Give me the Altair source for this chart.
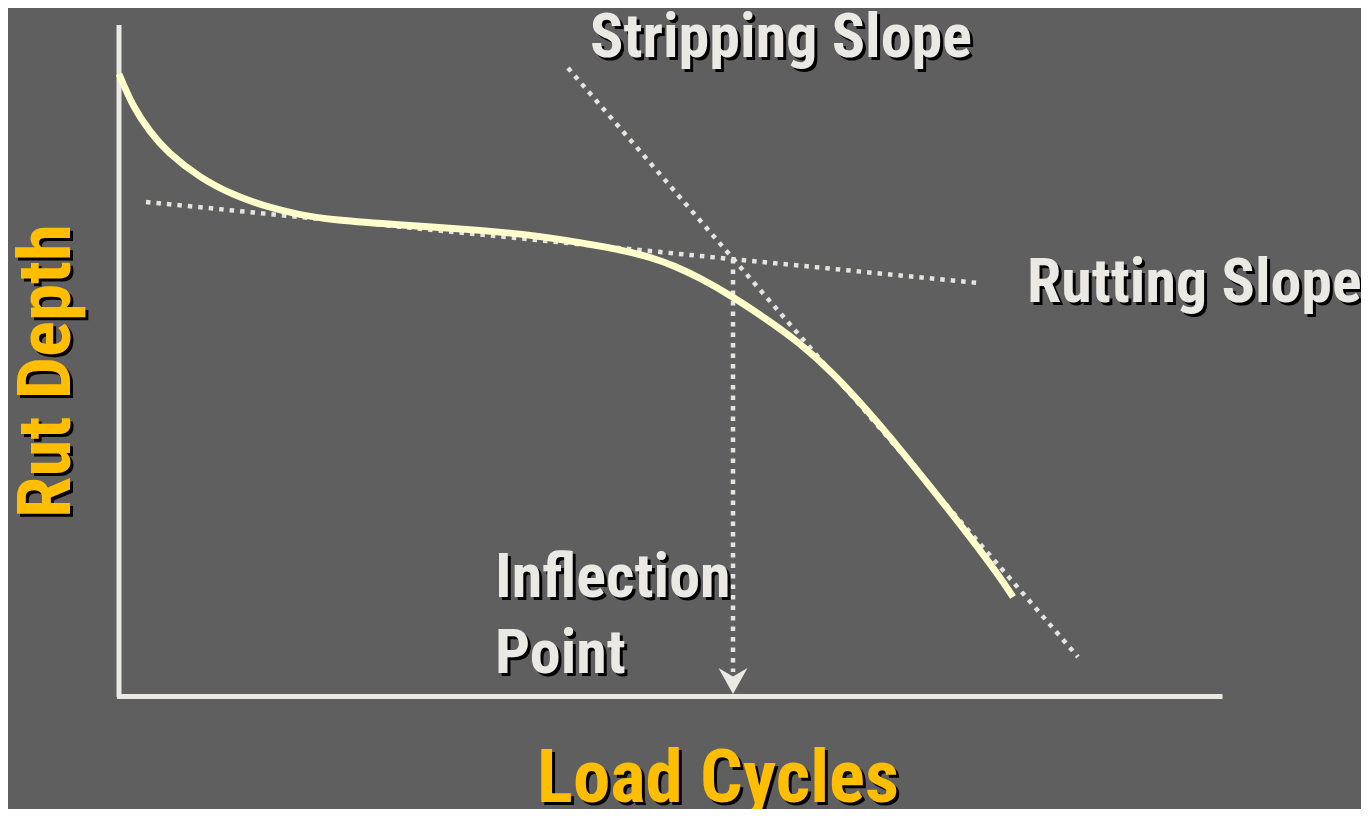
import altair as alt
import pandas as pd

# ---- data (Load Cycles vs Rut Depth) ----
curve_cycles = [0, 280, 620, 960, 1620, 2280, 2960, 3620, 4280, 5620, 7220,
                8420, 9620, 10120, 10620, 11120, 11620, 12220, 12920, 13620,
                14280, 14960, 15620, 16280, 16960, 17620, 17880]
curve_rut = [-0.98, -1.64, -2.14, -2.54, -3.06, -3.40, -3.64, -3.80, -3.90,
             -4.00, -4.10, -4.22, -4.42, -4.52, -4.64, -4.82, -5.06, -5.40,
             -5.86, -6.36, -6.96, -7.70, -8.48, -9.30, -10.16, -11.04, -11.44]

guide_names = ["Rutting Slope", "Stripping Slope", "Inflection"]
guide_x1 = [540, 8980, 12280]
guide_y1 = [-3.54, -0.86, -4.68]
guide_x2 = [17180, 19180, 12280]
guide_y2 = [-5.16, -12.64, -12.94]

arrow_x = [12280]
arrow_y = [-13.38]

axis_x1 = [0, -40]
axis_y1 = [0, -13.43]
axis_x2 = [0, 22070]
axis_y2 = [-13.44, -13.43]

label_text = ["Stripping Slope", "Rutting Slope", "Inflection", "Point"]
label_x = [9420, 18160, 7520, 7520]
label_y = [-0.64, -5.54, -11.44, -12.96]

title_x_text = ["Load Cycles"]
title_x_pos = [11980]
title_x_y = [-15.54]
title_y_text = ["Rut Depth"]
title_y_pos = [-980]
title_y_y = [-6.92]

# ---- styling ----
BG = "#5f5f5f"
LIGHT = "#eae9e3"
YELLOW = "#ffbe00"
CURVE = "#ffffcc"
FONT = "Roboto Condensed, Liberation Sans, sans-serif"

W, H = 1353, 801
xs = alt.Scale(domain=[-2220, 24840], nice=False, zero=False)
ys = alt.Scale(domain=[-15.68, 0.34], nice=False, zero=False)


def X(f):
    return alt.X(f, type="quantitative", scale=xs, axis=None)


def Y(f):
    return alt.Y(f, type="quantitative", scale=ys, axis=None)


curve_df = pd.DataFrame({"cycles": curve_cycles, "rut": curve_rut})
guide_df = pd.DataFrame({"name": guide_names, "x1": guide_x1, "y1": guide_y1,
                         "x2": guide_x2, "y2": guide_y2})
arrow_df = pd.DataFrame({"x": arrow_x, "y": arrow_y})
axis_df = pd.DataFrame({"x1": axis_x1, "y1": axis_y1, "x2": axis_x2, "y2": axis_y2})
label_df = pd.DataFrame({"t": label_text, "x": label_x, "y": label_y})
tx_df = pd.DataFrame({"t": title_x_text, "x": title_x_pos, "y": title_x_y})
ty_df = pd.DataFrame({"t": title_y_text, "x": title_y_pos, "y": title_y_y})

axes = alt.Chart(axis_df).mark_rule(color=LIGHT, strokeWidth=5).encode(
    x=X("x1"), y=Y("y1"), x2="x2", y2="y2")

guides = alt.Chart(guide_df).mark_rule(
    color="#e4e4e0", strokeWidth=4.5, strokeDash=[4.5, 6], strokeCap="butt"
).encode(x=X("x1"), y=Y("y1"), x2="x2", y2="y2")

arrow = alt.Chart(arrow_df).mark_point(
    shape="M -1 -1.8 L 0 0 L 1 -1.8 L 0 -1.2 Z", filled=True, color=LIGHT,
    opacity=1, size=841, strokeWidth=0
).encode(x=X("x"), y=Y("y"))

curve = alt.Chart(curve_df).mark_line(
    color=CURVE, strokeWidth=6.8, interpolate="basis", strokeCap="butt"
).encode(x=X("cycles"), y=Y("rut"), order="cycles:Q")


def texts(df, color, size, align="left", angle=0, sdx=3, sdy=3):
    base = dict(font=FONT, fontWeight="bold", fontSize=size, align=align,
                baseline="alphabetic")
    if angle:
        base["angle"] = angle
    shadow = alt.Chart(df).mark_text(color="#000000", dx=sdx, dy=sdy, **base).encode(
        x=X("x"), y=Y("y"), text="t:N")
    main = alt.Chart(df).mark_text(color=color, **base).encode(
        x=X("x"), y=Y("y"), text="t:N")
    return shadow + main


labels = texts(label_df, LIGHT, 62)
tx = texts(tx_df, YELLOW, 75, align="center")
ty = texts(ty_df, YELLOW, 75, align="center", angle=270, sdx=-3, sdy=3)

chart = alt.layer(axes, guides, arrow, curve, labels, tx, ty).properties(
    width=W, height=H, background=BG, padding=0,
    autosize=alt.AutoSizeParams(type="none"),
).configure_view(stroke=None)

chart.save("out.html", embed_options={"renderer": "svg", "actions": False})
